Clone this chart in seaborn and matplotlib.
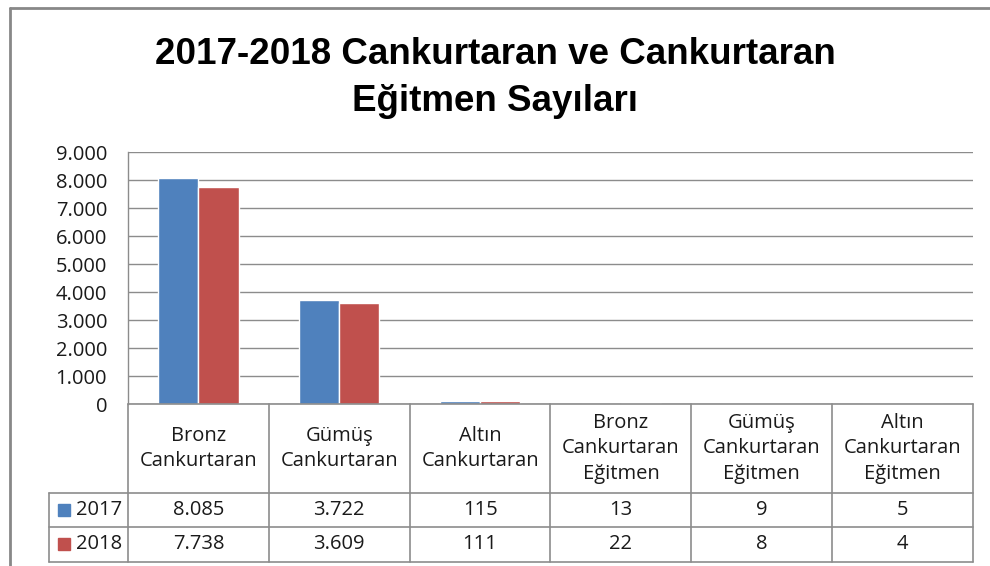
import pandas as pd
import seaborn as sns
import matplotlib.pyplot as plt
import matplotlib.transforms as mtransforms
from matplotlib.ticker import FuncFormatter, MultipleLocator
from matplotlib.lines import Line2D

# Veriler
kategoriler = ['Bronz\nCankurtaran', 'Gümüş\nCankurtaran', 'Altın\nCankurtaran',
               'Bronz\nCankurtaran\nEğitmen', 'Gümüş\nCankurtaran\nEğitmen',
               'Altın\nCankurtaran\nEğitmen']
yillar = ['2017', '2018']
degerler_2017 = [8085, 3722, 115, 13, 9, 5]
degerler_2018 = [7738, 3609, 111, 22, 8, 4]
renkler = ['#4F81BD', '#C0504D']

df = pd.DataFrame({
    'Kategori': kategoriler * 2,
    'Yıl': [yillar[0]] * 6 + [yillar[1]] * 6,
    'Sayı': degerler_2017 + degerler_2018,
})


def nokta_format(v):
    return f"{int(round(v)):,}".replace(',', '.')


sns.set_style('white')
plt.rcParams['font.family'] = ['Open Sans', 'DejaVu Sans']
yazi_rengi = '#1a1a1a'
cizgi_rengi = '#8c8c8c'
fs = 14.5

fig = plt.figure(figsize=(9.9, 5.66), dpi=100)
ax = fig.add_axes([128 / 990, 162 / 566, 845 / 990, 252 / 566])

sns.barplot(data=df, x='Kategori', y='Sayı', hue='Yıl', palette=renkler,
            width=0.57, edgecolor='white', linewidth=1, saturation=1,
            legend=False, ax=ax)

ax.set_xlim(-0.5, 5.5)
ax.set_ylim(0, 9000)
ax.yaxis.set_major_locator(MultipleLocator(1000))
ax.yaxis.set_major_formatter(FuncFormatter(lambda v, p: nokta_format(v)))
ax.tick_params(axis='y', labelsize=fs, colors=yazi_rengi, length=0, pad=15)
ax.set_xticks([])
ax.set_xlabel('')
ax.set_ylabel('')
ax.grid(axis='y', color=cizgi_rengi, linewidth=1)
ax.set_axisbelow(True)
for s in ['top', 'right', 'bottom']:
    ax.spines[s].set_visible(False)
ax.spines['left'].set_color(cizgi_rengi)
ax.spines['left'].set_linewidth(1)

# Veri tablosu
tr = mtransforms.blended_transform_factory(ax.transData, ax.transAxes)
x_sol = -1.061
y_baslik = -0.353
y_satir1 = -0.488
y_satir2 = -0.627


def cizgi(xs, ys):
    ax.add_line(Line2D(xs, ys, transform=tr, color=cizgi_rengi,
                       linewidth=1.2, clip_on=False))


cizgi([-0.5, 5.5], [0, 0])
for y in [y_baslik, y_satir1, y_satir2]:
    cizgi([x_sol, 5.5], [y, y])
for i in range(7):
    cizgi([i - 0.5, i - 0.5], [0, y_satir2])
cizgi([x_sol, x_sol], [y_baslik, y_satir2])

for i, k in enumerate(kategoriler):
    ax.text(i, y_baslik / 2, k, transform=tr, ha='center', va='center',
            fontsize=fs, color=yazi_rengi, linespacing=1.35)

satirlar = [(yillar[0], degerler_2017, y_baslik, y_satir1),
            (yillar[1], degerler_2018, y_satir1, y_satir2)]
for (yil, vals, y_ust, y_alt), renk in zip(satirlar, renkler):
    ym = (y_ust + y_alt) / 2
    ax.plot([-0.955], [ym], marker='s', markersize=8.5, color=renk,
            transform=tr, clip_on=False, linestyle='none')
    ax.text(-0.868, ym, yil, transform=tr, ha='left', va='center',
            fontsize=fs, color=yazi_rengi)
    for i, v in enumerate(vals):
        ax.text(i, ym, nokta_format(v), transform=tr, ha='center',
                va='center', fontsize=fs, color=yazi_rengi)

# Başlık
fig.text(0.5, 1 - 78 / 566, '2017-2018 Cankurtaran ve Cankurtaran\nEğitmen Sayıları',
         ha='center', va='center', fontsize=26.5, fontweight='bold',
         color='#000000', linespacing=1.45, family=['Liberation Sans', 'DejaVu Sans'])

# Dış çerçeve
fig.add_artist(Line2D([10 / 990, 1], [1 - 8 / 566, 1 - 8 / 566],
                      transform=fig.transFigure, color='#888888', linewidth=2))
fig.add_artist(Line2D([10 / 990, 10 / 990], [0, 1 - 8 / 566],
                      transform=fig.transFigure, color='#888888', linewidth=2))

fig.savefig('out.png', dpi=100)
